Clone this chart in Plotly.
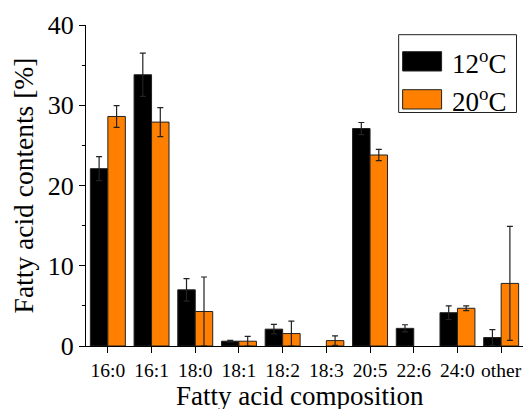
import plotly.graph_objects as go

categories = ["16:0", "16:1", "18:0", "18:1", "18:2", "18:3", "20:5", "22:6", "24:0", "other"]
vals_12 = [22.1, 33.8, 7.0, 0.6, 2.1, None, 27.1, 2.2, 4.15, 1.05]
err_12 = [1.5, 2.7, 1.4, 0.1, 0.6, 0, 0.75, 0.45, 0.85, 1.0]
vals_20 = [28.6, 27.9, 4.3, 0.6, 1.55, 0.67, 23.8, None, 4.7, 7.8]
err_20 = [1.35, 1.8, 4.3, 0.6, 1.55, 0.6, 0.7, 0, 0.3, 7.1]
series_names = ["12<sup>o</sup>C", "20<sup>o</sup>C"]
colors = ["#000000", "#FF8000"]
x_title = "Fatty acid composition"
y_title = "Fatty acid contents [%]"

FONT = "Liberation Serif"

fig = go.Figure()
for name, vals, errs, col in zip(series_names, [vals_12, vals_20], [err_12, err_20], colors):
    fig.add_trace(go.Bar(
        x=categories, y=vals, name=name,
        marker=dict(color=col, line=dict(color="#222222", width=1)),
        error_y=dict(type="data", array=errs, visible=True, color="#222222", thickness=1.2, width=3),
        showlegend=False,
    ))

# plot area in pixels
L, R, T, B = 86, 523.5, 25, 346
W, H = R - L, B - T
def px(x):
    return (x - L) / W
def py(y):
    return (B - y) / H

# manual legend
fig.add_shape(type="rect", xref="paper", yref="paper", x0=px(399), x1=px(517), y0=py(112.5), y1=py(34.7),
              line=dict(color="#222222", width=1), fillcolor="white", layer="above")
for i, (name, col) in enumerate(zip(series_names, colors)):
    ytop = 51.7 + i * 38
    fig.add_shape(type="rect", xref="paper", yref="paper", x0=px(403), x1=px(442), y0=py(ytop + 19.3), y1=py(ytop),
                  line=dict(color="#222222", width=1), fillcolor=col, layer="above")
    fig.add_annotation(xref="paper", yref="paper", x=px(450), y=py(ytop + 10), text=name, showarrow=False,
                       xanchor="left", yanchor="middle", font=dict(family=FONT, size=27, color="black"))

# x axis title as annotation
fig.add_annotation(xref="paper", yref="paper", x=px(300), y=py(395.5), text=x_title, showarrow=False,
                   xanchor="center", yanchor="middle", font=dict(family=FONT, size=27, color="black"))

fig.update_layout(
    width=525, height=409,
    margin=dict(l=L, r=525 - R, t=T, b=409 - B),
    plot_bgcolor="white", paper_bgcolor="white",
    barmode="group", bargap=0.2, bargroupgap=0,
    font=dict(family=FONT, color="black"),
    xaxis=dict(
        range=[-0.5, 9.5], showline=True, linecolor="black", linewidth=1.2,
        ticks="outside", ticklen=6, tickcolor="black", tickwidth=1,
        tickfont=dict(family=FONT, size=19.5, color="black"),
        showgrid=False, zeroline=False,
    ),
    yaxis=dict(
        range=[0, 40], showline=True, linecolor="black", linewidth=1.2,
        tickvals=[0, 10, 20, 30, 40],
        ticks="outside", ticklen=6, tickcolor="black", tickwidth=1,
        minor=dict(tickvals=[5, 15, 25, 35], ticks="outside", ticklen=3, tickcolor="black", tickwidth=1),
        tickfont=dict(family=FONT, size=26, color="black"),
        title=dict(text=y_title, font=dict(family=FONT, size=27.5, color="black"), standoff=6),
        showgrid=False, zeroline=False,
    ),
)

fig.write_html("out.html")
